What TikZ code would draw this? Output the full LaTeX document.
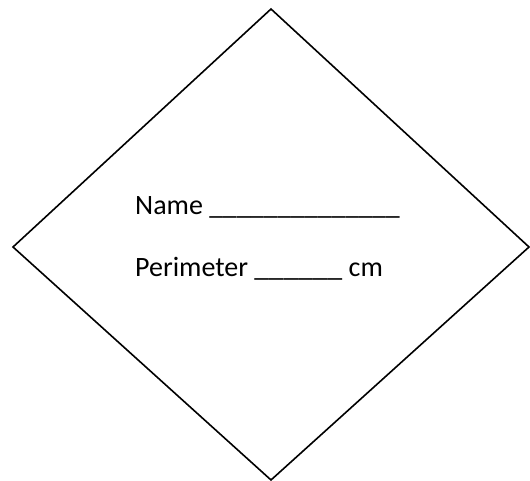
\documentclass[tikz,border=0pt]{standalone}
\usepackage{fontspec}
\setmainfont{Carlito}
\begin{document}
\begin{tikzpicture}[x=1pt,y=1pt,
  lbl/.style={anchor=base west,inner sep=0pt,font=\fontsize{28}{33}\selectfont},
  edge/.style={draw=black,line width=1.6pt,line join=miter}]
\useasboundingbox (0,0) rectangle (530,481);
\coordinate (T) at (271,472);
\coordinate (L) at (13,234);
\coordinate (R) at (529,234);
\coordinate (B) at (271,1);
\draw[edge] (T) -- (R) -- (B) -- (L) -- cycle;
\node[lbl] (name) at (135,266) {Name \scalebox{0.975}[1]{\_\_\_\_\_\_\_\_\_\_\_\_\_\_}};
\node[lbl] (per) at (135,204) {Perimeter \scalebox{1.05}[1]{\_\_\_\_\_\_} cm};
\end{tikzpicture}
\end{document}
